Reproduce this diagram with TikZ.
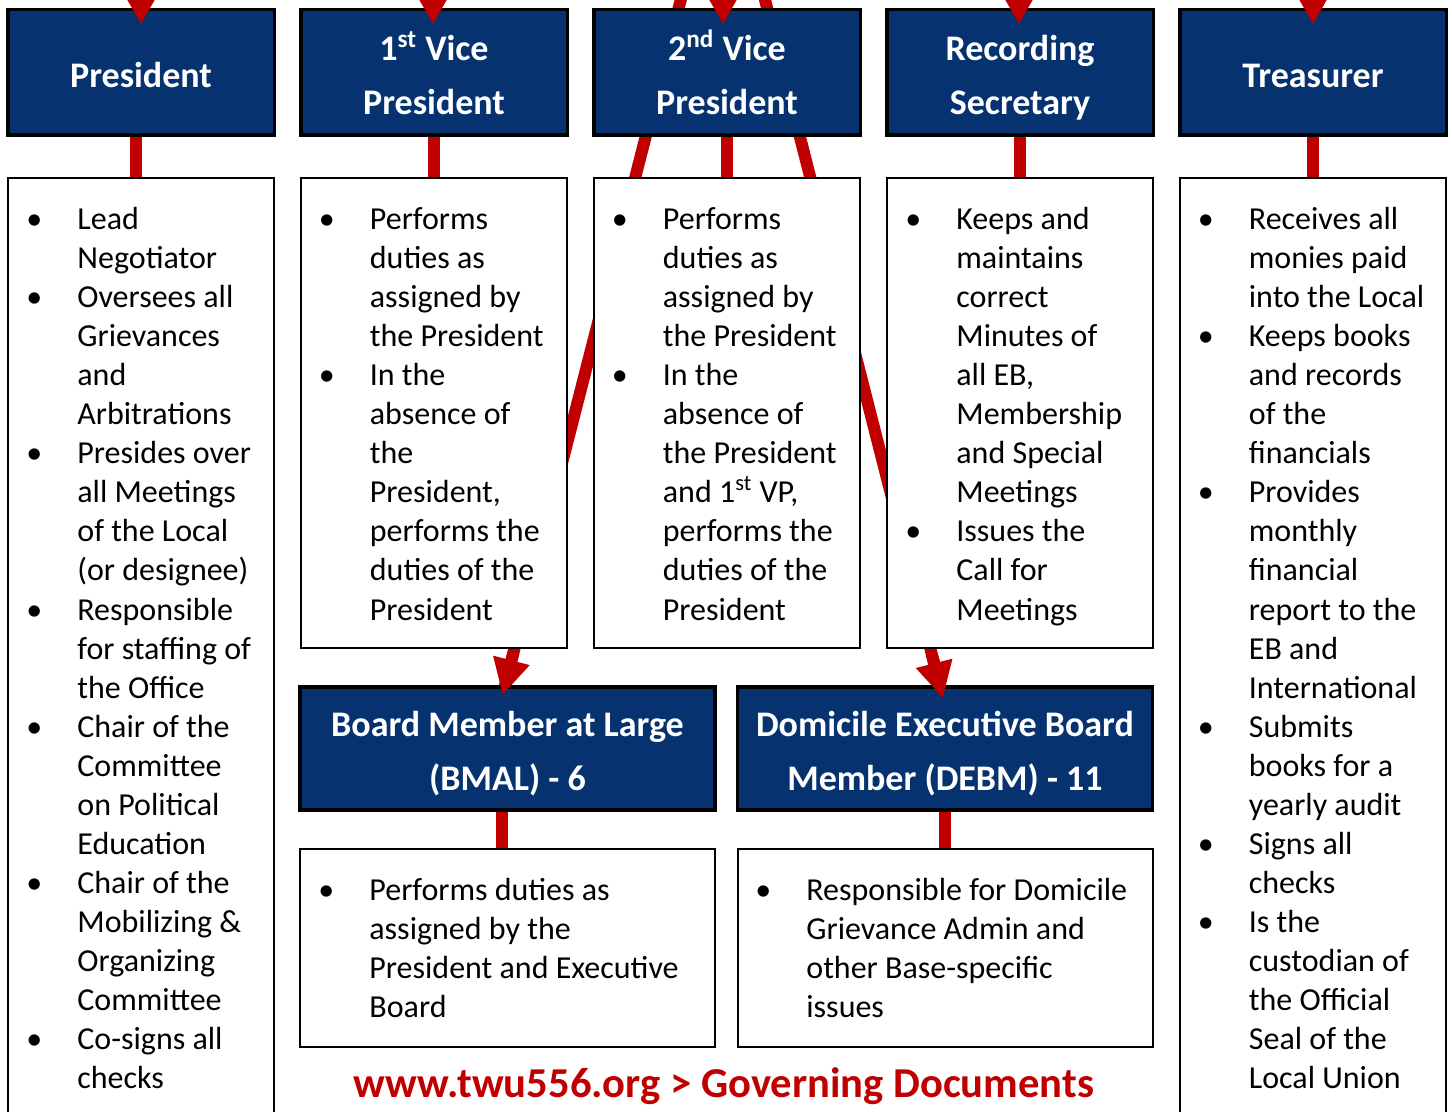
\documentclass[tikz,border=0pt]{standalone}
\usepackage{fontspec}
\setmainfont{Carlito}
\usetikzlibrary{arrows.meta,calc}
\pgfdeclarelayer{paper}
\pgfdeclarelayer{background}
\pgfsetlayers{paper,background,main}
\definecolor{navy}{RGB}{6,51,112}
\definecolor{tred}{RGB}{192,0,0}
\newcommand\bul{\llap{\makebox[21.5pt][l]{\makebox[0pt][c]{\textbullet}}}}
\newcommand\hs{\rule[-4pt]{0pt}{23pt}}
\begin{document}
\begin{tikzpicture}[x=0.5pt,y=-0.5pt,
  head/.style={draw=black,line width=1.75pt,fill=navy,text=white,
    font=\bfseries\fontsize{18}{27}\selectfont,align=center,
    minimum width=133.25pt,minimum height=62.75pt,inner sep=0pt},
  desc/.style={draw=black,line width=1pt,fill=white,minimum width=133pt,
    inner sep=0pt,anchor=north},
  txt/.style={anchor=north west,inner sep=0pt,align=left,
    font=\fontsize{16}{19.53}\selectfont},
  conn/.style={draw=tred,line width=6pt},
  arr/.style={draw=tred,fill=tred,line width=6pt,-{Triangle[length=20pt,width=21pt]}},
  arrs/.style={draw=tred,fill=tred,line width=6pt,-{Triangle[length=18pt,width=17.5pt]}}]
\useasboundingbox (0,0) rectangle (1452,1112);
\clip (0,0) rectangle (1452,1112);
\begin{pgfonlayer}{paper}
\fill[white] (0,0) rectangle (1452,1112);
\end{pgfonlayer}
% headers
\node[head] (h1) at (141,72.5) {\hs President};
\node[head] (h2) at (434,72.5) {\hs 1\textsuperscript{st} Vice\\\hs President};
\node[head] (h3) at (727,72.5) {\hs 2\textsuperscript{nd} Vice\\\hs President};
\node[head] (h4) at (1020,72.5) {\hs Recording\\\hs Secretary};
\node[head] (h5) at (1313,72.5) {\hs Treasurer};
% description boxes
\node[desc,minimum height=481.5pt] (d1) at (141,177) {};
\node[desc,minimum height=235pt] (d2) at (434,177) {};
\node[desc,minimum height=235pt] (d3) at (727,177) {};
\node[desc,minimum height=235pt] (d4) at (1020,177) {};
\node[desc,minimum height=481.5pt] (d5) at (1313,177) {};
% texts
\node[txt] (t1) at (77,201.7) {\bul\strut Lead\\Negotiator\\\bul Oversees all\\Grievances\\and\\Arbitrations\\\bul Presides over\\all Meetings\\of the Local\\(or designee)\\\bul Responsible\\for staffing of\\the Office\\\bul Chair of the\\Committee\\on Political\\Education\\\bul Chair of the\\Mobilizing \&\\Organizing\\Committee\\\bul Co-signs all\\checks};
\node[txt] (t2) at (369.5,201.7) {\bul\strut Performs\\duties as\\assigned by\\the President\\\bul In the\\absence of\\the\\President,\\performs the\\duties of the\\President};
\node[txt] (t3) at (662.5,201.7) {\bul\strut Performs\\duties as\\assigned by\\the President\\\bul In the\\absence of\\the President\\and 1\textsuperscript{st} VP,\\performs the\\duties of the\\President};
\node[txt] (t4) at (956,201.7) {\bul\strut Keeps and\\maintains\\correct\\Minutes of\\all EB,\\Membership\\and Special\\Meetings\\\bul Issues the\\Call for\\Meetings};
\node[txt] (t5) at (1248.5,201.7) {\bul\strut Receives all\\monies paid\\into the Local\\\bul Keeps books\\and records\\of the\\financials\\\bul Provides\\monthly\\financial\\report to the\\EB and\\International\\\bul Submits\\books for a\\yearly audit\\\bul Signs all\\checks\\\bul Is the\\custodian of\\the Official\\Seal of the\\Local Union};
% lower boxes
\node[head,minimum width=207.5pt,minimum height=61.5pt] (b) at (507.5,748.5) {\hs Board Member at Large\\\hs (BMAL) - 6};
\node[head,minimum width=207.5pt,minimum height=61.5pt] (e) at (945,748.5) {\hs Domicile Executive Board\\\hs Member (DEBM) - 11};
\node[desc,minimum width=207.5pt,minimum height=99pt] (bd) at (507.5,848) {};
\node[desc,minimum width=207.5pt,minimum height=99pt] (ed) at (945,848) {};
\node[txt] (tb) at (369,872.7) {\bul\strut Performs duties as\\assigned by the\\President and Executive\\Board};
\node[txt] (te) at (806,872.7) {\bul\strut Responsible for Domicile\\Grievance Admin and\\other Base-specific\\issues};
% footer
\node[font=\bfseries\fontsize{21.3}{25}\selectfont,text=tred,anchor=base,inner sep=0pt] (f) at (724,1097) {www.twu556.org > Governing Documents};
% coordinates
\coordinate (src) at (723,-165);
\coordinate (btip) at ($(b.north)+(-5,10)$);
\coordinate (etip) at ($(e.north)+(-2,13)$);
% connectors behind boxes
\begin{pgfonlayer}{background}
\draw[conn] ([xshift=-2.5pt]h1.south) -- ([xshift=-2.5pt]d1.north);
\draw[conn] (h2.south) -- (d2.north);
\draw[conn] (h3.south) -- (d3.north);
\draw[conn] (h4.south) -- (d4.north);
\draw[conn] (h5.south) -- (d5.north);
\draw[conn] ([xshift=-2.75pt]b.south) -- ([xshift=-2.75pt]bd.north);
\draw[conn] (e.south) -- (ed.north);
\draw[conn] (src) -- (btip);
\draw[conn] (src) -- (etip);
\end{pgfonlayer}
% arrowheads on top
\draw[arrs] ($(src)!0.95!(btip)$) -- (btip);
\draw[arrs] ($(src)!0.95!(etip)$) -- (etip);
\coordinate (a1) at (141,-120);
\coordinate (a2) at (433,-120);
\coordinate (a3) at (723,-120);
\coordinate (a4) at (1019,-120);
\coordinate (a5) at (1313,-120);
\draw[arr] (a1) -- ($(h1.north)+(0,16.5)$);
\draw[arr] (a2) -- ($(h2.north)+(-1,16.5)$);
\draw[arr] (a3) -- ($(h3.north)+(-4,16.5)$);
\draw[arr] (a4) -- ($(h4.north)+(-1,16.5)$);
\draw[arr] (a5) -- ($(h5.north)+(0,16.5)$);
\end{tikzpicture}
\end{document}
